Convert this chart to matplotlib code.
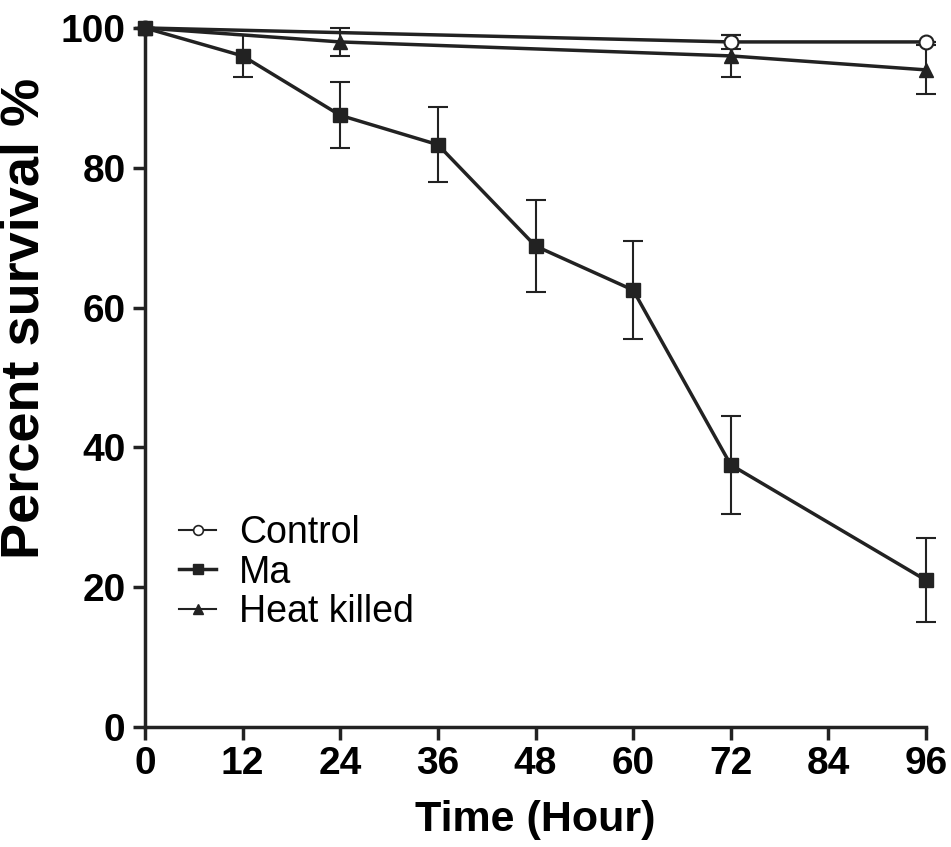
import numpy as np
import matplotlib.pyplot as plt
from matplotlib.lines import Line2D

plt.rcParams['font.family'] = ['Liberation Sans', 'DejaVu Sans']

# data
ctrl_t = [0, 72, 96]
ctrl_y = [100, 98, 98]
ctrl_e = [0, 1, 0]

ma_t = [0, 12, 24, 36, 48, 60, 72, 96]
ma_y = [100, 96, 87.5, 83.3, 68.8, 62.5, 37.5, 21]
ma_e = [0, 3, 4.7, 5.4, 6.6, 7, 7, 6]

hk_t = [0, 24, 72, 96]
hk_y = [100, 98, 96, 94]
hk_e = [0, 2, 3, 3.5]

x_ticks = [0, 12, 24, 36, 48, 60, 72, 84, 96]
y_ticks = [0, 20, 40, 60, 80, 100]

fig = plt.figure(figsize=(9.51, 8.47), dpi=100)
ax = fig.add_axes([0.1525, 0.1417, 0.8212, 0.8253])

lw = 2.5
col = '#222222'
ekw = dict(capsize=7, elinewidth=1.5, capthick=1.5, clip_on=False)
ax.errorbar(ctrl_t, ctrl_y, yerr=ctrl_e, color=col, lw=lw, marker='o', ms=10,
            mfc='white', mec=col, mew=1.5, zorder=3, **ekw)
ax.errorbar(ma_t, ma_y, yerr=ma_e, color=col, lw=lw, marker='s', ms=10, zorder=4, **ekw)
ax.errorbar(hk_t, hk_y, yerr=hk_e, color=col, lw=lw, marker='^', ms=10, zorder=3, **ekw)

ax.set_xlim(0, 96)
ax.set_ylim(0, 100)
ax.set_xticks(x_ticks)
ax.set_yticks(y_ticks)
for s in ['top', 'right']:
    ax.spines[s].set_visible(False)
for s in ['left', 'bottom']:
    ax.spines[s].set_linewidth(2.5)
    ax.spines[s].set_color(col)
ax.tick_params(width=2.5, length=9, labelsize=28, color=col, pad=5)
for lab in ax.get_xticklabels() + ax.get_yticklabels():
    lab.set_fontweight('bold')

ax.set_xlabel('Time (Hour)', fontsize=31, fontweight='bold')
ax.set_ylabel('Percent survival %', fontsize=39, fontweight='bold')
ax.xaxis.set_label_coords(0.5, -0.105)
ax.yaxis.set_label_coords(-0.122, 0.585)

handles = [
    Line2D([], [], color=col, lw=1.5, marker='o', ms=7, mfc='white', mec=col, mew=1.2),
    Line2D([], [], color=col, lw=2.5, marker='s', ms=7),
    Line2D([], [], color=col, lw=1.5, marker='^', ms=7),
]
ax.legend(handles, ['Control', 'Ma', 'Heat killed'], loc='lower left',
          bbox_to_anchor=(0.0, 0.09), frameon=False, fontsize=27,
          handlelength=1.0, handletextpad=0.6, labelspacing=0.1)

fig.savefig('out.png', dpi=100)
